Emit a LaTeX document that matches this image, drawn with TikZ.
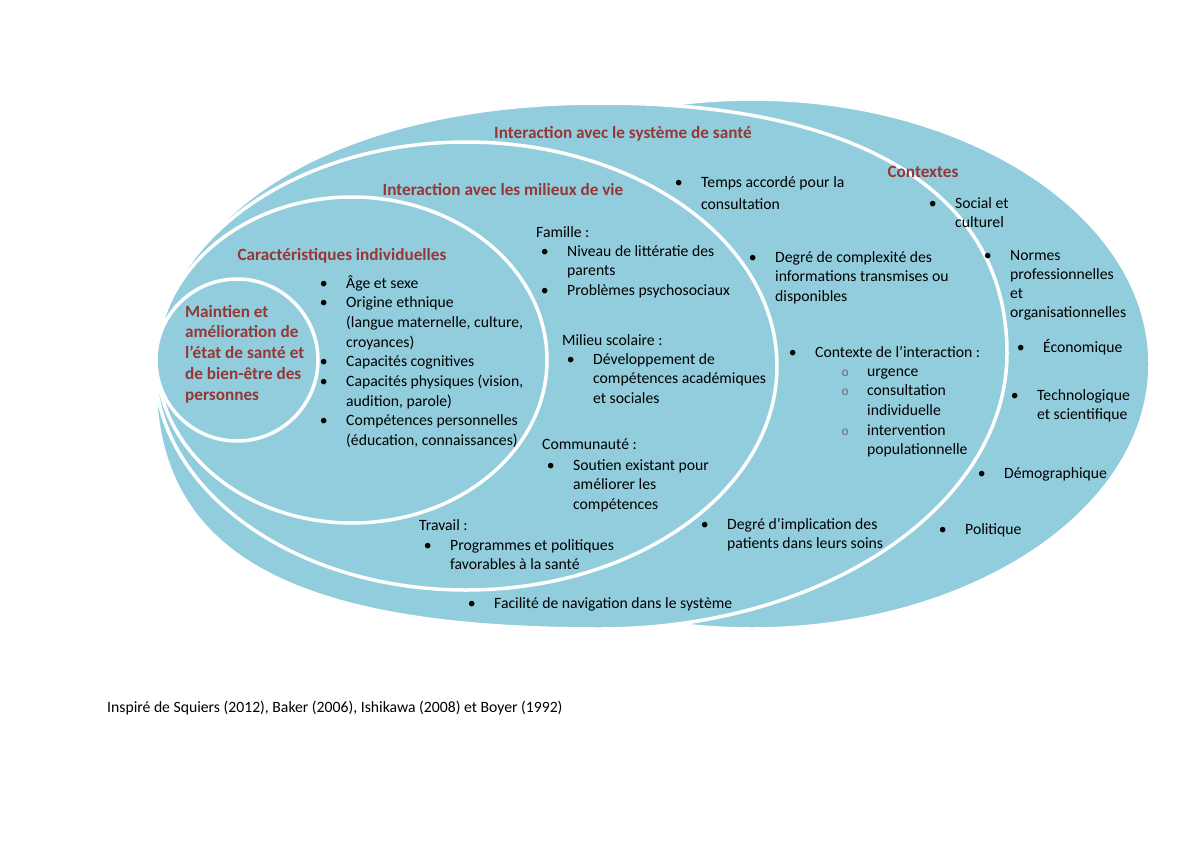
\documentclass[tikz,border=0pt]{standalone}
\usepackage{fontspec}
\setmainfont{Carlito}
\newfontfamily\courfont{Liberation Mono}
\usepackage{xcolor}
\usepackage{tikz}

\definecolor{ringblue}{RGB}{146,205,221}
\definecolor{headred}{RGB}{149,55,53}

\newcommand{\blt}{\llap{\makebox[45pt][c]{\textbullet}}}
\newcommand{\sblt}{\llap{\makebox[44pt][c]{\color{black!60}\fontsize{12}{12}\selectfont\courfont o}}}
\newcommand{\txtblock}[1]{\begin{tabular}[t]{@{}l@{}}#1\end{tabular}}

\begin{document}
\begin{tikzpicture}[
        x=1pt, y=-1pt,
        ring/.style={fill=ringblue, draw=white, line width=3.5pt},
        head/.style={font=\fontsize{17.2}{20.8}\selectfont\bfseries, text=headred, inner sep=0pt, anchor=base},
        lst/.style={font=\fontsize{15.7}{19.7}\selectfont, inner sep=0pt, anchor=base west}
    ]
    \useasboundingbox[fill=white] (0,0) rectangle (1200,849);

    % Rings, from outside to inside
    \draw[ring] (752,364) ellipse (398 and 265);
    \draw[ring] (155,380) .. controls (155,214) and (333,103) .. (600,103)
        .. controls (860,103) and (1007,193) .. (1007,353)
        .. controls (1007,505) and (825,629) .. (600,629)
        .. controls (289,629) and (155,554) .. cycle;
    \draw[ring] (466,366) ellipse (311 and 224);
    \draw[ring] (352,360) ellipse (195 and 163);
    \draw[ring] (237,360) circle (81);

    % Titles
    \node[head] (sante) at (623,138) {Interaction avec le système de santé};
    \node[head] (ctx) at (923,177) {Contextes};
    \node[head] (milieu) at (503,195) {Interaction avec les milieux de vie};
    \node[head] (carac) at (342,260) {Caractéristiques individuelles};
    \node[head, anchor=base west] (maintien) at (185,317)
        {\txtblock{Maintien et\\amélioration de\\l’état de santé et\\de bien-être des\\personnes}};

    % Caracteristiques individuelles
    \node[lst] (caraclst) at (346,288) {\txtblock{\blt Âge et sexe\\
        \blt Origine ethnique\\(langue maternelle, culture,\\croyances)\\
        \blt Capacités cognitives\\
        \blt Capacités physiques (vision,\\audition, parole)\\
        \blt Compétences personnelles\\(éducation, connaissances)}};

    % Milieux de vie
    \node[lst] (famille) at (536,237) {Famille :};
    \node[lst] (famlst) at (567,256) {\txtblock{\blt Niveau de littératie des\\parents\\
        \blt Problèmes psychosociaux}};
    \node[lst] (scol) at (562,345) {Milieu scolaire :};
    \node[lst] (scollst) at (593,364) {\txtblock{\blt Développement de\\compétences académiques\\et sociales}};
    \node[lst] (comm) at (542,449) {Communauté :};
    \node[lst] (commlst) at (573,470) {\txtblock{\blt Soutien existant pour\\améliorer les\\compétences}};
    \node[lst] (trav) at (419,530) {Travail :};
    \node[lst] (travlst) at (450,550) {\txtblock{\blt Programmes et politiques\\favorables à la santé}};

    % Systeme de sante
    \node[lst, font=\fontsize{15.7}{22}\selectfont] (temps) at (701,187) {\txtblock{\blt Temps accordé pour la\\consultation}};
    \node[lst] (complex) at (775,262) {\txtblock{\blt Degré de complexité des\\informations transmises ou\\disponibles}};
    \node[lst] (inter) at (815,357) {\blt Contexte de l’interaction :};
    \node[lst] (interlst) at (867,376) {\txtblock{\sblt urgence\\
        \sblt consultation\\individuelle\\
        \sblt intervention\\populationnelle}};
    \node[lst] (implic) at (727,529) {\txtblock{\blt Degré d’implication des\\patients dans leurs soins}};
    \node[lst] (navig) at (494,608) {\blt Facilité de navigation dans le système};

    % Contextes
    \node[lst] (social) at (955,208) {\txtblock{\blt Social et\\culturel}};
    \node[lst, font=\fontsize{15.7}{19}\selectfont] (normes) at (1010,260) {\txtblock{\blt Normes\\professionnelles\\et\\organisationnelles}};
    \node[lst] (eco) at (1043,352) {\blt Économique};
    \node[lst] (techno) at (1037,400) {\txtblock{\blt Technologique\\et scientifique}};
    \node[lst] (demo) at (1004,478) {\blt Démographique};
    \node[lst] (poli) at (965,534) {\blt Politique};

    % Source
    \node[lst] (source) at (107,712) {Inspiré de Squiers (2012), Baker (2006), Ishikawa (2008) et Boyer (1992)};
\end{tikzpicture}
\end{document}
